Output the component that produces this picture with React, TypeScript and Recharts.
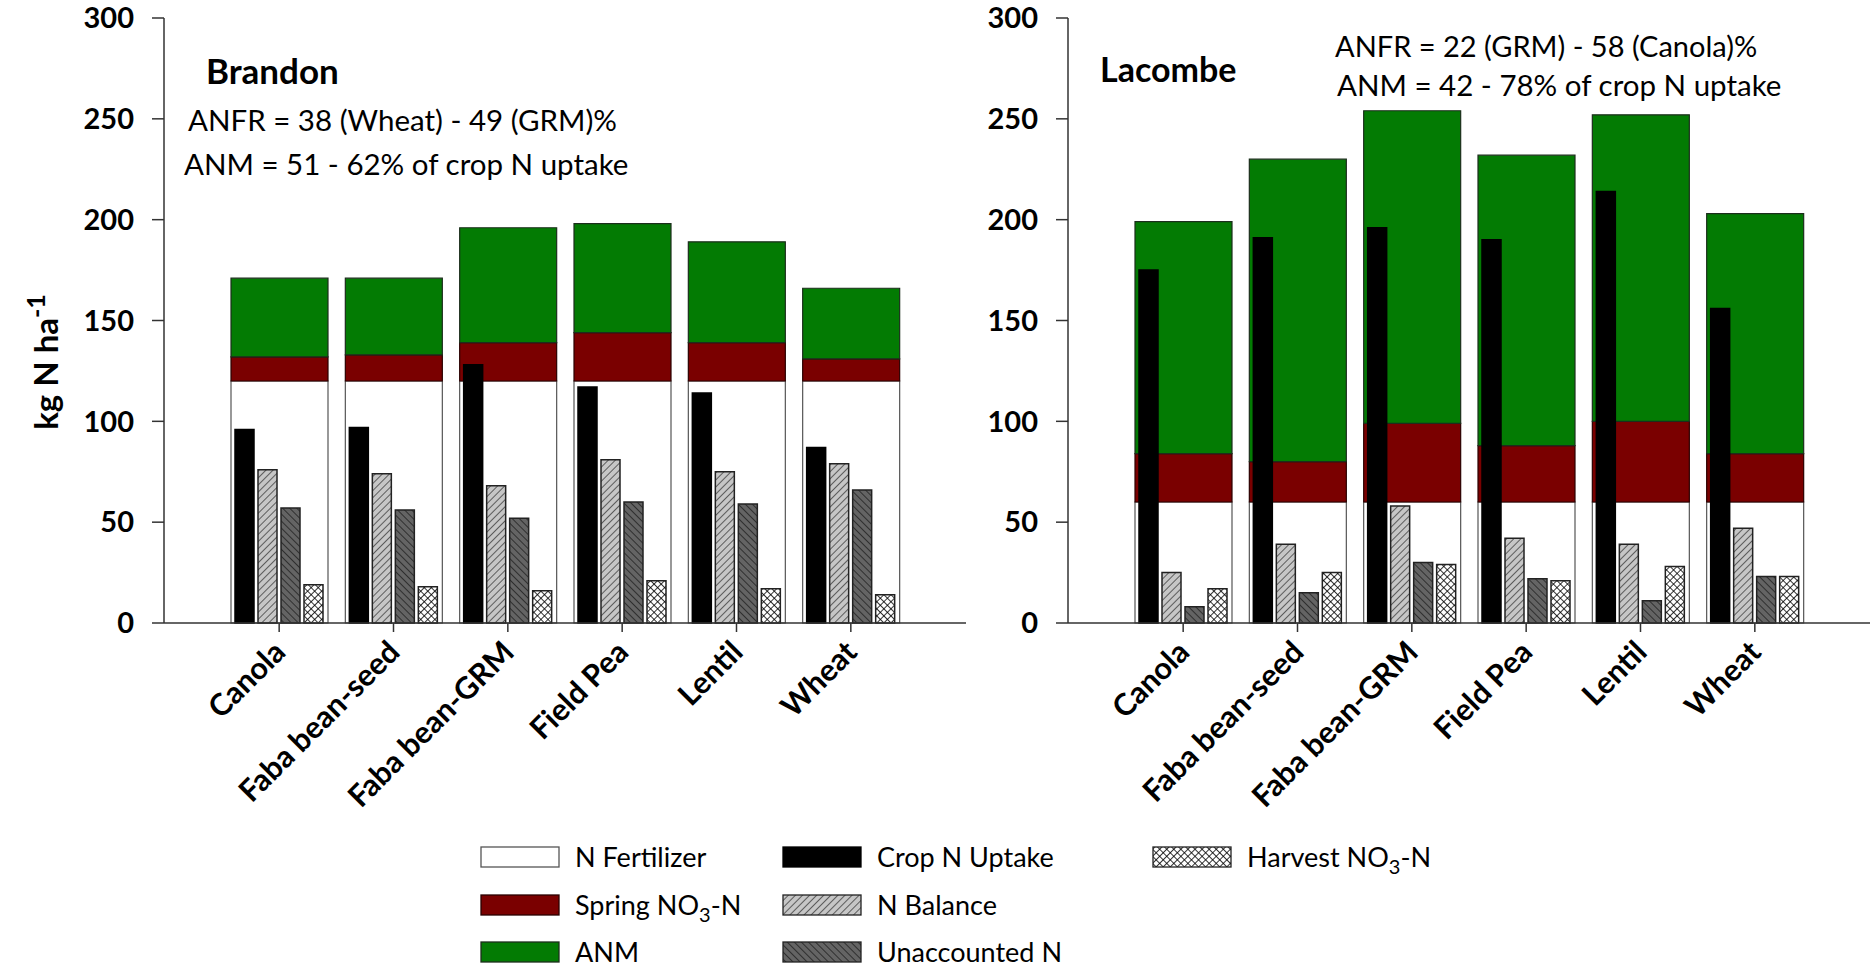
import React from 'react';
import { BarChart, Bar, XAxis, YAxis } from 'recharts';

const FONT = "Lato, 'Open Sans', sans-serif";

const crops = ['Canola', 'Faba bean-seed', 'Faba bean-GRM', 'Field Pea', 'Lentil', 'Wheat'];
const yTicks = [0, 50, 100, 150, 200, 250, 300];

// Brandon (kg N/ha)
const brandonFertilizer = [120, 120, 120, 120, 120, 120];
const brandonSpring = [12, 13, 19, 24, 19, 11];
const brandonANM = [39, 38, 57, 54, 50, 35];
const brandonUptake = [96, 97, 128, 117, 114, 87];
const brandonBalance = [76, 74, 68, 81, 75, 79];
const brandonUnaccounted = [57, 56, 52, 60, 59, 66];
const brandonHarvest = [19, 18, 16, 21, 17, 14];

// Lacombe (kg N/ha)
const lacombeFertilizer = [60, 60, 60, 60, 60, 60];
const lacombeSpring = [24, 20, 39, 28, 40, 24];
const lacombeANM = [115, 150, 155, 144, 152, 119];
const lacombeUptake = [175, 191, 196, 190, 214, 156];
const lacombeBalance = [25, 39, 58, 42, 39, 47];
const lacombeUnaccounted = [8, 15, 30, 22, 11, 23];
const lacombeHarvest = [17, 25, 29, 21, 28, 23];

const seriesKeys = ['fertilizer', 'spring', 'anm', 'uptake', 'balance', 'unaccounted', 'harvest'];
const seriesNames = [
  'N Fertilizer',
  'Spring NO3-N',
  'ANM',
  'Crop N Uptake',
  'N Balance',
  'Unaccounted N',
  'Harvest NO3-N',
];

const seriesStyle: Record<string, { fill: string; stroke: string }> = {
  fertilizer: { fill: '#ffffff', stroke: '#555555' },
  spring: { fill: '#7a0000', stroke: '#2a0000' },
  anm: { fill: '#037b03', stroke: '#1c2e1c' },
  uptake: { fill: '#000000', stroke: '#000000' },
  balance: { fill: 'url(#pat-balance)', stroke: '#222222' },
  unaccounted: { fill: 'url(#pat-unacc)', stroke: '#222222' },
  harvest: { fill: 'url(#pat-harvest)', stroke: '#222222' },
};

const buildRows = (cols: number[][]) =>
  crops.map((crop, i) => {
    const row: Record<string, any> = { crop };
    seriesKeys.forEach((k, j) => {
      row[k] = cols[j][i];
    });
    return row;
  });

const brandonRows = buildRows([
  brandonFertilizer,
  brandonSpring,
  brandonANM,
  brandonUptake,
  brandonBalance,
  brandonUnaccounted,
  brandonHarvest,
]);

const lacombeRows = buildRows([
  lacombeFertilizer,
  lacombeSpring,
  lacombeANM,
  lacombeUptake,
  lacombeBalance,
  lacombeUnaccounted,
  lacombeHarvest,
]);

const CropTick = (props: any) => {
  const { x, y, payload } = props;
  return (
    <g transform={`translate(${x + 8},${y + 20})`}>
      <text
        textAnchor="end"
        transform="rotate(-45)"
        fontFamily={FONT}
        fontWeight={700}
        fontSize={30.5}
        fill="#000"
      >
        {payload.value}
      </text>
    </g>
  );
};

// NO3 gets a subscript 3
const withSubscript = (name: string) => {
  const idx = name.indexOf('NO3');
  if (idx < 0) return name;
  return (
    <>
      {name.slice(0, idx) + 'NO'}
      <tspan dy={7} fontSize={20}>3</tspan>
      <tspan dy={-7}>{name.slice(idx + 3)}</tspan>
    </>
  );
};

const PAD = { left: 58, right: 58 };
const axisStroke = { stroke: '#333', strokeWidth: 1.5 };
const frameStroke = { stroke: '#555', strokeWidth: 1.3 };

type PanelProps = {
  rows: Record<string, any>[];
  width: number;
  yWidth: number;
  margin: { top: number; right: number; bottom: number; left: number };
};

const Panel = ({ rows, width, yWidth, margin }: PanelProps) => (
  <BarChart width={width} height={900} data={rows} margin={margin} barGap={4}>
    <XAxis
      xAxisId="wide"
      dataKey="crop"
      padding={PAD}
      interval={0}
      height={130}
      tickSize={9}
      tickMargin={2}
      tick={(p: any) => <CropTick {...p} />}
      axisLine={axisStroke}
      tickLine={axisStroke}
    />
    <XAxis xAxisId="narrow" dataKey="crop" padding={PAD} height={0} hide />
    <XAxis
      xAxisId="frame"
      dataKey="crop"
      orientation="top"
      height={0}
      tick={false}
      tickLine={false}
      axisLine={frameStroke}
    />
    <YAxis
      domain={[0, 300]}
      ticks={yTicks}
      interval={0}
      width={yWidth}
      tickSize={12}
      tickMargin={18}
      tick={{ fill: '#000', fontSize: 29, fontWeight: 700, fontFamily: FONT }}
      axisLine={axisStroke}
      tickLine={axisStroke}
    />
    <YAxis
      yAxisId="frame"
      orientation="right"
      domain={[0, 300]}
      width={0}
      tick={false}
      tickLine={false}
      axisLine={frameStroke}
    />
    {['fertilizer', 'spring', 'anm'].map((k) => (
      <Bar
        key={k}
        xAxisId="wide"
        stackId="supply"
        dataKey={k}
        barSize={97}
        fill={seriesStyle[k].fill}
        stroke={seriesStyle[k].stroke}
        strokeWidth={1.2}
        isAnimationActive={false}
      />
    ))}
    {['uptake', 'balance', 'unaccounted', 'harvest'].map((k) => (
      <Bar
        key={k}
        xAxisId="narrow"
        dataKey={k}
        barSize={19}
        fill={seriesStyle[k].fill}
        stroke={seriesStyle[k].stroke}
        strokeWidth={1.5}
        isAnimationActive={false}
      />
    ))}
  </BarChart>
);

const legendCols = [481, 783, 1153];
const legendRows = [857, 905, 952];

const Overlay = () => (
  <svg
    width={1872}
    height={967}
    style={{ position: 'absolute', left: 0, top: 0, pointerEvents: 'none' }}
  >
    <defs>
      <pattern id="pat-balance" width={5} height={5} patternUnits="userSpaceOnUse" patternTransform="rotate(45)">
        <rect width={5} height={5} fill="#c6c6c6" />
        <line x1={0} y1={0} x2={0} y2={5} stroke="#222" strokeWidth={1.3} />
      </pattern>
      <pattern id="pat-unacc" width={5} height={5} patternUnits="userSpaceOnUse" patternTransform="rotate(-45)">
        <rect width={5} height={5} fill="#646464" />
        <line x1={0} y1={0} x2={0} y2={5} stroke="#111" strokeWidth={1.3} />
      </pattern>
      <pattern id="pat-harvest" width={5} height={5} patternUnits="userSpaceOnUse" patternTransform="rotate(45)">
        <rect width={5} height={5} fill="#ffffff" />
        <line x1={0} y1={0} x2={0} y2={5} stroke="#000" strokeWidth={1.6} />
        <line x1={0} y1={0} x2={5} y2={0} stroke="#000" strokeWidth={1.6} />
      </pattern>
    </defs>

    <text
      transform="translate(58,362) rotate(-90)"
      textAnchor="middle"
      fontFamily={FONT}
      fontWeight={700}
      fontSize={33}
      fill="#000"
    >
      kg N ha
      <tspan dy={-13} fontSize={25}>-1</tspan>
    </text>

    <g fontFamily={FONT} fill="#000">
      <text x={206} y={84} fontSize={35} fontWeight={700}>Brandon</text>
      <text x={188} y={131} fontSize={29.5}>ANFR = 38 (Wheat) - 49 (GRM)%</text>
      <text x={184} y={175} fontSize={29.5}>ANM = 51 - 62% of crop N uptake</text>

      <text x={1100} y={82} fontSize={34} fontWeight={700}>Lacombe</text>
      <text x={1335} y={57} fontSize={29}>ANFR = 22 (GRM) - 58 (Canola)%</text>
      <text x={1337} y={96} fontSize={29.5}>ANM = 42 - 78% of crop N uptake</text>
    </g>

    <g fontFamily={FONT} fontSize={27} fill="#000">
      {seriesKeys.map((k, i) => {
        const x = legendCols[Math.floor(i / 3)];
        const y = legendRows[i % 3];
        return (
          <g key={k}>
            <rect
              x={x}
              y={y - 10}
              width={78}
              height={20}
              fill={seriesStyle[k].fill}
              stroke={seriesStyle[k].stroke}
              strokeWidth={1.3}
            />
            <text x={x + 94} y={y + 10}>{withSubscript(seriesNames[i])}</text>
          </g>
        );
      })}
    </g>
  </svg>
);

export default function App() {
  return (
    <div
      style={{
        position: 'absolute',
        left: 0,
        top: 0,
        width: 1872,
        height: 967,
        background: '#fff',
        overflow: 'hidden',
      }}
    >
      <div style={{ position: 'absolute', left: 0, top: 0 }}>
        <Panel rows={brandonRows} width={970} yWidth={100} margin={{ top: 18, right: 4, bottom: 147, left: 64 }} />
      </div>
      <div style={{ position: 'absolute', left: 970, top: 0 }}>
        <Panel rows={lacombeRows} width={902} yWidth={80} margin={{ top: 18, right: 2, bottom: 147, left: 18 }} />
      </div>
      <Overlay />
    </div>
  );
}
